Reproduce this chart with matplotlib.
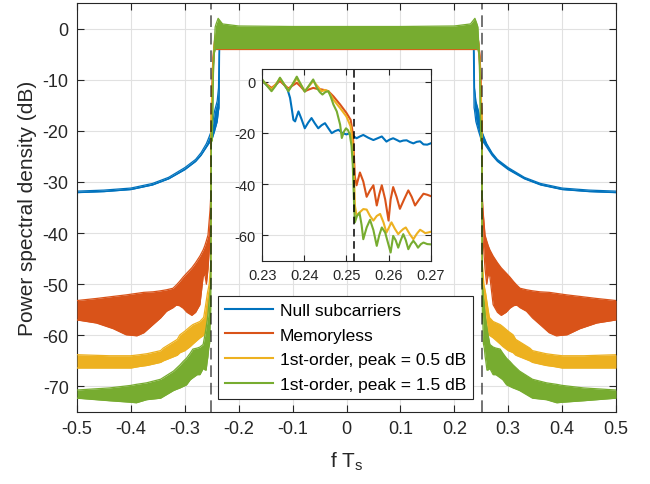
import numpy as np
import matplotlib
matplotlib.use('Agg')
import matplotlib.pyplot as plt
from matplotlib.lines import Line2D

plt.rcParams['font.family'] = ['Liberation Sans', 'DejaVu Sans']
plt.rcParams['axes.unicode_minus'] = False

# colours (MATLAB default order)
c_blue = '#0072BD'
c_orange = '#D95319'
c_yellow = '#EDB120'
c_green = '#77AC30'

labels = ['Null subcarriers', 'Memoryless',
          '1st-order, peak = 0.5 dB', '1st-order, peak = 1.5 dB']

edge_f = 0.2518   # dashed lines at +/- edge

# ---- main plot: band envelopes for f >= 0 (spectrum is symmetric) ----
# null subcarriers
fb = [0, 0.1, 0.2, 0.23, 0.2355, 0.2366, 0.2375, 0.24, 0.245, 0.25, 0.255,
      0.26, 0.27, 0.28, 0.3, 0.33, 0.36, 0.4, 0.45, 0.5]
b_up = [-0.8, -0.8, -0.8, -0.8, -1.0, -5, -11.6, -14.2, -16.2, -19.8, -21.2,
        -22.5, -24.3, -25.6, -27.2, -29.1, -30.3, -31.2, -31.6, -31.8]
b_lo = [-3.5, -3.5, -3.5, -3.5, -3.5, -15.5, -16, -18.2, -20.1, -21.8, -22.4,
        -23.2, -24.8, -26.0, -27.6, -29.4, -30.6, -31.5, -31.9, -32.1]

# memoryless
fo = [0, 0.1, 0.2, 0.23, 0.24, 0.245, 0.248, 0.25, 0.2515, 0.252, 0.2532,
      0.257, 0.26, 0.263, 0.266, 0.272, 0.28, 0.287, 0.296, 0.303, 0.31,
      0.316, 0.322, 0.334, 0.345, 0.359, 0.376, 0.389, 0.409, 0.433, 0.464, 0.5]
o_up = [-1, -1, -1, -1, -1, -2.4, -5.7, -12, -20, -33, -35.5,
        -40.4, -41.5, -42.5, -43.3, -44.5, -45.8, -46.8, -47.8, -48.6, -49.5,
        -50.2, -50.8, -51.1, -51.3, -51.5, -51.6, -51.8, -52.1, -52.4, -52.8, -53.2]
o_lo = [-4.1, -4.1, -4.1, -4.1, -4.1, -4.1, -8.9, -13.6, -28, -38, -41,
        -47, -50, -48, -48.5, -54.0, -55.5, -56.1, -55.5, -54.7, -54.2,
        -54.1, -54.6, -55.3, -56.6, -57.9, -59.5, -60.1, -59.9, -58.7, -57.6, -57.0]

# 1st-order, 0.5 dB
fy = [0, 0.1, 0.2, 0.238, 0.242, 0.246, 0.2485, 0.25, 0.251, 0.2515, 0.2518,
      0.252, 0.2548, 0.258, 0.262, 0.265, 0.272, 0.285, 0.29, 0.3, 0.309,
      0.314, 0.34, 0.345, 0.37, 0.384, 0.4, 0.44, 0.5]
y_up = [-1, -1, -1, -1, -1, -3.7, -10, -13.6, -17.5, -24.7, -36.6,
        -46, -50, -51.7, -54.5, -56.5, -57.3, -57.9, -58.3, -59.2, -59.9,
        -60.8, -62.5, -63.0, -63.6, -63.8, -64.0, -64.0, -63.8]
y_lo = [-3.9, -3.9, -3.9, -3.9, -3.9, -3.9, -10.5, -14, -18, -26, -40,
        -48.4, -53, -56, -59.5, -60.0, -60.5, -61.7, -62.2, -63.0, -63.4,
        -63.9, -65.0, -65.3, -65.9, -66.1, -66.4, -66.4, -66.4]

# 1st-order, 1.5 dB
fg = [0, 0.1, 0.2, 0.23, 0.2382, 0.242, 0.2437, 0.2457, 0.2469, 0.2477, 0.2485,
      0.2489, 0.2499, 0.2508, 0.2515, 0.252, 0.2531, 0.254, 0.2556, 0.2572,
      0.2584, 0.2605, 0.262, 0.266, 0.272, 0.277, 0.285, 0.29, 0.297, 0.303,
      0.309, 0.314, 0.321, 0.345, 0.371, 0.39, 0.4, 0.44, 0.5]
g_up = [0.4, 0.4, 0.5, 0.9, 2.0, 0.9, 0.3, -3.7, -6, -11.6, -16.8,
        -18, -18.2, -20.8, -32.6, -50, -51.3, -52.5, -54, -56,
        -57, -58.5, -59.5, -61.8, -62.3, -62.5, -62.7, -63.5, -64.5, -65.1,
        -65.8, -66.3, -67.0, -68.6, -69.3, -69.6, -69.8, -70.3, -70.7]
g_lo = [-3.9, -3.9, -3.9, -3.9, -3.9, -3.9, -4.1, -5.0, -8.9, -14, -18,
        -22, -20, -23, -35, -55, -58, -61.6, -62.5, -64.2,
        -65, -66.8, -66.8, -66.5, -67.7, -67.7, -68.3, -68.7, -69.7, -70.0,
        -70.3, -70.5, -70.8, -72.3, -72.6, -73.2, -73.1, -72.8, -72.3]

# ---- zoom inset: traces between 0.23 and 0.27 ----
fi_b = [0.2300, 0.2311, 0.2322, 0.2332, 0.2342, 0.2352, 0.2360, 0.2366, 0.2370,
        0.2374, 0.2378, 0.2382, 0.2386, 0.2393, 0.2401, 0.2409, 0.2417, 0.2425,
        0.2433, 0.2441, 0.2449, 0.2457, 0.2465, 0.2473, 0.2481, 0.2490, 0.2500,
        0.2508, 0.2516, 0.2524, 0.2532, 0.2540, 0.2552, 0.2564, 0.2574, 0.2584,
        0.2595, 0.2603, 0.2611, 0.2620, 0.2627, 0.2635, 0.2643, 0.2651, 0.2659,
        0.2667, 0.2675, 0.2683, 0.2692, 0.2700]
in_b = [0.3, -1.4, -3.0, -1.2, 0.9, -1.2, -3.0, -6.3, -10.5,
        -14.9, -15.5, -13.5, -11.6, -14.5, -18.2, -16.0, -14.2, -16.3,
        -18.2, -17.0, -16.2, -18.2, -20.1, -19.3, -18.8, -20.0, -20.6,
        -20.1, -21.2, -22.1, -21.4, -20.8, -21.9, -22.8, -22.1, -21.4,
        -23.4, -22.6, -22.1, -22.8, -23.4, -23.0, -22.9, -23.6, -24.1,
        -23.5, -23.3, -24.5, -24.6, -24.1]

fi_o = [0.2300, 0.2311, 0.2322, 0.2332, 0.2342, 0.2352, 0.2362, 0.2372, 0.2382,
        0.2392, 0.2401, 0.2411, 0.2421, 0.2431, 0.2441, 0.2449, 0.2457, 0.2469,
        0.2485, 0.2500, 0.2510, 0.2515, 0.2518, 0.2520, 0.2524, 0.2532, 0.2540,
        0.2548, 0.2556, 0.2564, 0.2572, 0.2578, 0.2584, 0.2592, 0.2600, 0.2605,
        0.2611, 0.2619, 0.2627, 0.2637, 0.2647, 0.2655, 0.2663, 0.2673, 0.2683,
        0.2692, 0.2700]
in_o = [0.3, -1.1, -2.4, -1.1, 0.3, -1.2, -2.6, -1.5, -0.4,
        -2.0, -3.7, -3.0, -2.4, -2.8, -3.0, -3.3, -3.7, -5.7,
        -8.9, -12.2, -14.9, -20, -30, -37.2, -40.5, -35.5, -39,
        -45, -42.5, -40.5, -48.4, -44, -40.5, -46, -54.3, -46,
        -41.2, -45, -49.7, -46, -42.5, -45, -48.4, -46, -43.8,
        -44.2, -44.7]

fi_y = [0.2300, 0.2311, 0.2322, 0.2332, 0.2342, 0.2352, 0.2362, 0.2372, 0.2382,
        0.2392, 0.2401, 0.2411, 0.2421, 0.2431, 0.2441, 0.2449, 0.2457, 0.2469,
        0.2485, 0.2500, 0.2510, 0.2515, 0.2518, 0.2520, 0.2524, 0.2532, 0.2540,
        0.2548, 0.2556, 0.2564, 0.2572, 0.2580, 0.2588, 0.2595, 0.2601, 0.2607,
        0.2615, 0.2623, 0.2629, 0.2635, 0.2641, 0.2650, 0.2659, 0.2667, 0.2675,
        0.2681, 0.2687, 0.2693, 0.2700]
in_y = [0.5, -1.2, -3.0, -1.0, 1.3, -1.0, -3.4, -1.0, 1.3,
        -1.2, -3.7, -1.7, 0.3, -1.7, -3.7, -3.2, -3.7, -7.0,
        -10.3, -13.6, -17.5, -24.7, -36.6, -48.4, -52.4, -51, -49.8,
        -50.0, -52.5, -54.3, -52.5, -51.7, -55, -59.0, -57, -55.0,
        -57.5, -59.6, -58.5, -57.6, -57.0, -59.5, -61.6, -59.5, -57.9,
        -58.5, -59.2, -59.0, -58.7]

fi_g = [0.2300, 0.2311, 0.2322, 0.2332, 0.2342, 0.2352, 0.2362, 0.2372, 0.2382,
        0.2392, 0.2401, 0.2411, 0.2421, 0.2430, 0.2437, 0.2443, 0.2450, 0.2457,
        0.2463, 0.2469, 0.2477, 0.2485, 0.2489, 0.2494, 0.2499, 0.2504, 0.2508,
        0.2512, 0.2515, 0.2518, 0.2520, 0.2525, 0.2531, 0.2536, 0.2540, 0.2548,
        0.2556, 0.2564, 0.2572, 0.2578, 0.2584, 0.2592, 0.2605, 0.2611, 0.2617,
        0.2623, 0.2629, 0.2635, 0.2641, 0.2647, 0.2653, 0.2659, 0.2665, 0.2670,
        0.2677, 0.2683, 0.2692, 0.2700]
in_g = [0.9, -1.5, -3.7, -1.5, 1.6, -1.0, -3.7, -1.0, 2.0,
        -1.2, -3.9, -1.5, 0.9, -2.5, -4.1, -5.0, -4.0, -3.7,
        -6.0, -8.9, -11.6, -16.8, -22.0, -19.5, -18.2, -19.0, -20.8,
        -25, -32.6, -47, -55, -52.5, -51.3, -56, -61.6, -57,
        -54, -58, -64.2, -60, -57, -59, -66.8, -60.3, -62,
        -64.9, -62, -59.6, -62, -65.5, -63.5, -62.2, -63.5, -64.9,
        -63.5, -62.9, -63.5, -63.6]


def mirror(f, v):
    f = np.asarray(f)
    v = np.asarray(v)
    return np.concatenate([-f[::-1], f[1:]]), np.concatenate([v[::-1], v[1:]])


fig = plt.figure(figsize=(6.5, 4.85), dpi=100)
ax = fig.add_axes([0.1185, 0.1485, 0.8292, 0.8433])

bands = [(fb, b_up, b_lo, c_blue), (fo, o_up, o_lo, c_orange),
         (fy, y_up, y_lo, c_yellow), (fg, g_up, g_lo, c_green)]
for i, (f, up, lo, col) in enumerate(bands):
    ff, uu = mirror(f, up)
    _, ll = mirror(f, lo)
    ax.fill_between(ff, ll, uu, color=col, lw=0, zorder=2 + i)
    ax.plot(ff, uu, color=col, lw=0.9, zorder=2 + i)
    ax.plot(ff, ll, color=col, lw=0.9, zorder=2 + i)

for x in (-edge_f, edge_f):
    ax.axvline(x, color='k', alpha=0.55, lw=1.4, ls=(0, (6, 3)), zorder=10)

ax.set_xlim(-0.5, 0.5)
ax.set_ylim(-75, 5)
ax.set_xticks(np.arange(-0.5, 0.51, 0.1))
ax.set_xticklabels(['-0.5', '-0.4', '-0.3', '-0.2', '-0.1', '0',
                    '0.1', '0.2', '0.3', '0.4', '0.5'])
ax.set_yticks(np.arange(-70, 1, 10))
ax.grid(True, color='#e1e1e1', lw=0.8)
ax.set_axisbelow(True)
ax.tick_params(direction='in', top=True, right=True, length=5, width=0.8,
               labelsize=13, colors='#262626', pad=6)
for s in ax.spines.values():
    s.set_color('#262626')
    s.set_linewidth(0.8)
ax.set_xlabel('f T$_\\mathregular{s}$', fontsize=15, color='#262626', labelpad=9)
ax.set_ylabel('Power spectral density (dB)', fontsize=15, color='#262626', labelpad=4)

handles = [Line2D([], [], color=c, lw=1.5) for c in (c_blue, c_orange, c_yellow, c_green)]
leg = ax.legend(handles, labels, loc='lower center', bbox_to_anchor=(0.498, 0.032),
                fontsize=12.5, fancybox=False, framealpha=1, edgecolor='#262626',
                handlelength=2.8, handletextpad=0.4, borderpad=0.4,
                labelspacing=0.55, borderaxespad=0)
leg.get_frame().set_linewidth(0.8)
leg.set_zorder(20)

# inset
axi = fig.add_axes([0.4035, 0.4604, 0.259, 0.3953])
axi.plot(fi_b, in_b, color=c_blue, lw=1.5)
axi.plot(fi_o, in_o, color=c_orange, lw=1.5)
axi.plot(fi_y, in_y, color=c_yellow, lw=1.5)
axi.plot(fi_g, in_g, color=c_green, lw=1.5)
axi.axvline(edge_f, color='k', lw=1.1, ls=(0, (5, 3)))
axi.set_xlim(0.23, 0.27)
axi.set_ylim(-70, 5)
axi.set_xticks([0.23, 0.24, 0.25, 0.26, 0.27])
axi.set_xticklabels(['0.23', '0.24', '0.25', '0.26', '0.27'])
axi.set_yticks([-60, -40, -20, 0])
axi.grid(True, color='#e1e1e1', lw=0.8)
axi.set_axisbelow(True)
axi.tick_params(direction='in', top=True, right=True, length=4, width=0.8,
                labelsize=10.5, colors='#262626', pad=5)
for s in axi.spines.values():
    s.set_color('#262626')
    s.set_linewidth(0.8)

fig.savefig('out.png', dpi=100)
